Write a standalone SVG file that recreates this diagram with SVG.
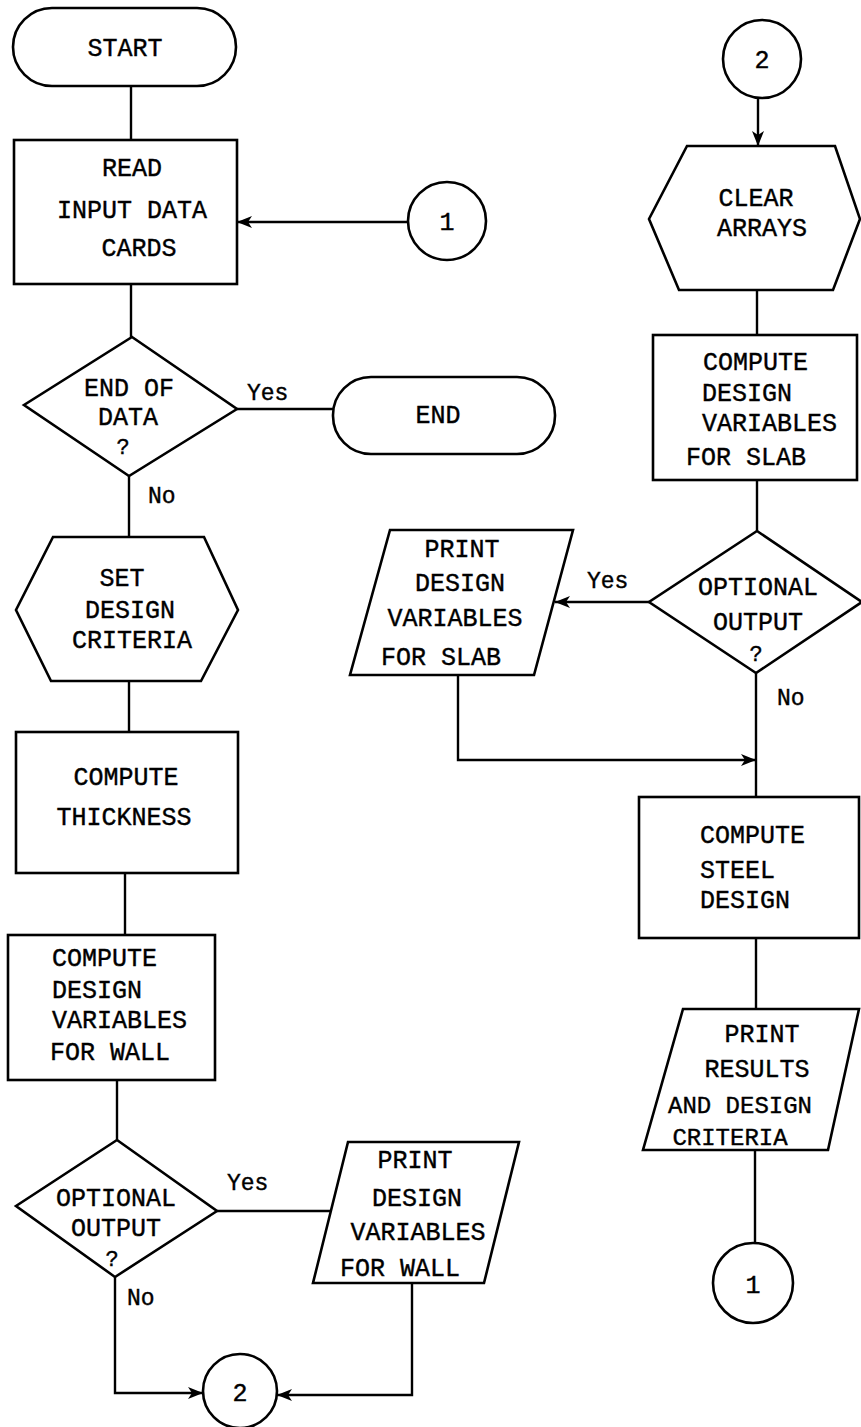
<svg xmlns="http://www.w3.org/2000/svg" width="861" height="1427" viewBox="0 0 861 1427">
<defs>
<marker id="arr" markerWidth="16" markerHeight="12" refX="15" refY="6" orient="auto" markerUnits="userSpaceOnUse">
<path d="M0,0 L15,6 L0,12 L4,6 Z" fill="#000"/>
</marker>
<style>
.s{fill:#fff;stroke:#000;stroke-width:2.6;stroke-linejoin:miter}
.c{fill:none;stroke:#000;stroke-width:2.4}
text{font-family:"Liberation Mono","Courier New",monospace;font-size:25px;fill:#000;stroke:#000;stroke-width:0.4}
.m{text-anchor:middle}
.l{font-size:23px}
.q{font-size:22px}
</style>
</defs>
<rect width="861" height="1427" fill="#fff"/>
<g id="connectors">
<line class="c" x1="131" y1="86" x2="131" y2="140"/>
<line class="c" x1="408" y1="222" x2="237" y2="222" marker-end="url(#arr)"/>
<line class="c" x1="131" y1="284" x2="131" y2="337"/>
<line class="c" x1="237" y1="409" x2="333" y2="409"/>
<line class="c" x1="129" y1="476" x2="129" y2="537"/>
<line class="c" x1="129" y1="681" x2="129" y2="732"/>
<line class="c" x1="125" y1="873" x2="125" y2="935"/>
<line class="c" x1="117" y1="1080" x2="117" y2="1140"/>
<line class="c" x1="217" y1="1211" x2="331" y2="1211"/>
<polyline class="c" points="115,1277 115,1393 203,1393" marker-end="url(#arr)"/>
<polyline class="c" points="412,1283 412,1395 277,1395" marker-end="url(#arr)"/>
<line class="c" x1="758" y1="98" x2="758" y2="146" marker-end="url(#arr)"/>
<line class="c" x1="757" y1="290" x2="757" y2="335"/>
<line class="c" x1="757" y1="480" x2="757" y2="531"/>
<line class="c" x1="649" y1="602" x2="555" y2="602" marker-end="url(#arr)"/>
<line class="c" x1="756" y1="673" x2="756" y2="797"/>
<polyline class="c" points="458,675 458,760 756,760" marker-end="url(#arr)"/>
<line class="c" x1="756" y1="938" x2="756" y2="1009"/>
<line class="c" x1="755" y1="1150" x2="755" y2="1243"/>
</g>
<g id="start">
<rect class="s" x="13" y="8" width="223" height="78" rx="39"/>
<text class="m" x="125" y="56">START</text>
</g>
<g id="read">
<rect class="s" x="14" y="140" width="223" height="144"/>
<text class="m" x="132" y="176">READ</text>
<text class="m" x="132" y="218">INPUT DATA</text>
<text class="m" x="139" y="256">CARDS</text>
</g>
<g id="conn1-in">
<circle class="s" cx="447" cy="221" r="39"/>
<text class="m" x="447" y="230">1</text>
</g>
<g id="endofdata">
<polygon class="s" points="132,337 237,409 129,476 24,405"/>
<text class="m" x="129" y="396">END OF</text>
<text class="m" x="128" y="425">DATA</text>
<text class="m q" x="123" y="454">?</text>
<text class="l" x="247" y="400">Yes</text>
<text class="l" x="148" y="503">No</text>
</g>
<g id="end">
<rect class="s" x="333" y="377" width="222" height="77" rx="38"/>
<text class="m" x="438" y="423">END</text>
</g>
<g id="setcriteria">
<polygon class="s" points="53,537 204,537 238,610 201,681 51,681 16,610"/>
<text class="m" x="122" y="586">SET</text>
<text class="m" x="130" y="618">DESIGN</text>
<text class="m" x="132" y="648">CRITERIA</text>
</g>
<g id="thickness">
<rect class="s" x="16" y="732" width="222" height="141"/>
<text class="m" x="126" y="785">COMPUTE</text>
<text class="m" x="124" y="825">THICKNESS</text>
</g>
<g id="wallvars">
<rect class="s" x="8" y="935" width="207" height="145"/>
<text x="52" y="966">COMPUTE</text>
<text x="52" y="998">DESIGN</text>
<text x="52" y="1028">VARIABLES</text>
<text x="50" y="1060">FOR WALL</text>
</g>
<g id="optwall">
<polygon class="s" points="117,1140 217,1211 115,1277 16,1206"/>
<text class="m" x="116" y="1206">OPTIONAL</text>
<text class="m" x="116" y="1236">OUTPUT</text>
<text class="m q" x="112" y="1266">?</text>
<text class="l" x="227" y="1190">Yes</text>
<text class="l" x="127" y="1305">No</text>
</g>
<g id="printwall">
<polygon class="s" points="348,1142 519,1142 484,1283 313,1283"/>
<text class="m" x="415" y="1168">PRINT</text>
<text class="m" x="417" y="1206">DESIGN</text>
<text class="m" x="418" y="1240">VARIABLES</text>
<text class="m" x="400" y="1276">FOR WALL</text>
</g>
<g id="conn2-out">
<circle class="s" cx="240" cy="1391" r="37"/>
<text class="m" x="240" y="1401">2</text>
</g>
<g id="conn2-in">
<circle class="s" cx="762" cy="59" r="39"/>
<text class="m" x="762" y="68">2</text>
</g>
<g id="cleararrays">
<polygon class="s" points="687,146 835,146 860,219 833,290 679,290 649,219"/>
<text class="m" x="756" y="206">CLEAR</text>
<text class="m" x="762" y="236">ARRAYS</text>
</g>
<g id="slabvars">
<rect class="s" x="653" y="335" width="204" height="145"/>
<text x="703" y="370">COMPUTE</text>
<text x="702" y="401">DESIGN</text>
<text x="702" y="431">VARIABLES</text>
<text x="686" y="465">FOR SLAB</text>
</g>
<g id="optslab">
<polygon class="s" points="757,531 862,602 756,673 649,602"/>
<text class="m" x="758" y="595">OPTIONAL</text>
<text class="m" x="758" y="630">OUTPUT</text>
<text class="m q" x="756" y="661">?</text>
<text class="l" x="587" y="588">Yes</text>
<text class="l" x="777" y="705">No</text>
</g>
<g id="printslab">
<polygon class="s" points="390,530 573,530 534,675 350,675"/>
<text class="m" x="462" y="557">PRINT</text>
<text class="m" x="460" y="591">DESIGN</text>
<text class="m" x="455" y="626">VARIABLES</text>
<text class="m" x="441" y="665">FOR SLAB</text>
</g>
<g id="steel">
<rect class="s" x="639" y="797" width="220" height="141"/>
<text x="700" y="843">COMPUTE</text>
<text x="700" y="878">STEEL</text>
<text x="700" y="908">DESIGN</text>
</g>
<g id="printresults">
<polygon class="s" points="683,1009 859,1009 828,1150 643,1150"/>
<text class="m" x="762" y="1042">PRINT</text>
<text class="m" x="757" y="1077">RESULTS</text>
<text class="m" x="740" y="1113" style="font-size:24px">AND DESIGN</text>
<text class="m" x="730" y="1145" style="font-size:24px">CRITERIA</text>
</g>
<g id="conn1-out">
<circle class="s" cx="753" cy="1283" r="40"/>
<text class="m" x="753" y="1293">1</text>
</g>
</svg>
